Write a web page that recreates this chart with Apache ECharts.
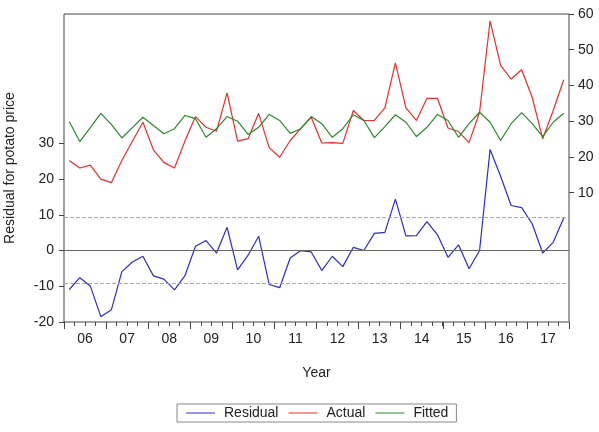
<!DOCTYPE html>
<html>
<head>
<meta charset="utf-8">
<script src="https://cdn.jsdelivr.net/npm/echarts@6/dist/echarts.min.js"></script>
<style>
html, body { margin: 0; padding: 0; background: #fff; }
#chart { width: 599px; height: 432px; }
</style>
</head>
<body>
<div id="chart"></div>
<script>
// year labels, one per 4 quarters
var years = ['06', '07', '08', '09', '10', '11', '12', '13', '14', '15', '16', '17'];
// quarterly categories 2006Q1 .. 2017Q4
var quarters = [];
for (var y = 0; y < years.length; y++) {
	for (var q = 1; q <= 4; q++) {
		quarters.push(years[y] + 'Q' + q);
	}
}
var actual = [19.0, 16.9, 17.7, 13.8, 12.8, 19.0, 24.4, 29.7, 22.0, 18.4, 16.9, 24.5,
	31.3, 28.3, 27.2, 37.9, 24.4, 25.1, 32.2, 22.6, 19.9, 24.6, 27.9, 31.1,
	23.9, 24.0, 23.8, 33.0, 30.2, 30.2, 33.7, 46.3, 33.7, 30.2, 36.4, 36.4,
	28.1, 27.1, 24.0, 32.5, 58.1, 45.6, 41.8, 44.4, 36.7, 25.1, 33.0, 41.6];
var fitted = [29.9, 24.3, 28.2, 32.2, 29.1, 25.3, 28.2, 31.1, 28.8, 26.5, 27.9, 31.6,
	30.7, 25.5, 27.9, 31.3, 30.0, 26.3, 28.3, 31.9, 30.2, 26.6, 27.9, 31.3,
	29.3, 25.5, 27.9, 31.8, 30.2, 25.4, 28.5, 31.8, 29.7, 25.7, 28.3, 31.9,
	30.2, 25.5, 29.3, 32.5, 29.7, 24.6, 29.3, 32.4, 29.3, 25.7, 29.7, 32.2];
var residual = [-10.9, -7.6, -9.9, -18.5, -16.6, -5.9, -3.2, -1.6, -7.1, -8.0, -11.0, -7.0,
	1.2, 2.8, -0.7, 6.5, -5.4, -1.3, 4.0, -9.5, -10.4, -2.1, 0.0, -0.4,
	-5.6, -1.6, -4.5, 0.9, 0.0, 4.8, 5.1, 14.4, 4.1, 4.2, 8.1, 4.4,
	-1.9, 1.6, -5.1, 0.0, 28.3, 20.8, 12.6, 12.0, 7.5, -0.7, 2.3, 9.1];
// +/- 1 S.E. band
var seBand = 9.2;
var leftTicks = [-20, -10, 0, 10, 20, 30];
var rightTicks = [10, 20, 30, 40, 50, 60];

var myChart = echarts.init(document.getElementById('chart'));
var txt = { color: '#222', fontFamily: 'Liberation Sans, Arial, sans-serif', fontSize: 14 };
var axisCol = '#444';
var option = {
	animation: false,
	textStyle: txt,
	grid: {
		left: 64,
		right: 30,
		top: 14,
		bottom: 110,
		outerBoundsMode: 'none',
		containLabel: false,
		show: true,
		borderColor: axisCol,
		borderWidth: 1,
		backgroundColor: 'transparent'
	},
	legend: {
		left: 177,
		top: 404,
		data: ['Residual', 'Actual', 'Fitted'],
		icon: 'rect',
		itemWidth: 29,
		itemHeight: 1,
		itemGap: 10,
		borderColor: '#888',
		borderWidth: 1,
		padding: [2, 8, 2, 9],
		textStyle: { color: '#222', fontFamily: 'Liberation Sans, Arial, sans-serif', fontSize: 14, padding: [0, 0, 0, 4] }
	},
	xAxis: [ {
		type: 'category',
		data: quarters,
		position: 'bottom',
		boundaryGap: true,
		axisLine: { show: false, onZero: false },
		axisTick: { show: true, interval: 0, length: 4, lineStyle: { color: axisCol } },
		axisLabel: { show: false },
		splitLine: { show: false }
	}, {
		type: 'category',
		data: years,
		position: 'bottom',
		boundaryGap: true,
		name: 'Year',
		nameLocation: 'middle',
		nameGap: 44,
		nameTextStyle: txt,
		axisLine: { show: false, onZero: false },
		axisTick: { show: true, interval: 0, length: 7, lineStyle: { color: axisCol } },
		axisLabel: { interval: 0, margin: 10, color: '#222', fontSize: 14 },
		splitLine: { show: false }
	} ],
	yAxis: [ {
		type: 'value',
		position: 'left',
		min: -20,
		max: 66.2,
		name: 'Residual for potato price',
		nameLocation: 'middle',
		nameGap: 47,
		nameTextStyle: txt,
		axisLine: { show: false, onZero: false },
		axisTick: { show: true, length: 5, customValues: leftTicks, lineStyle: { color: axisCol } },
		axisLabel: { customValues: leftTicks, margin: 10, color: '#222', fontSize: 14 },
		splitLine: { show: false }
	}, {
		type: 'value',
		position: 'right',
		min: -26.2,
		max: 60,
		axisLine: { show: false, onZero: false },
		axisTick: { show: true, length: 5, customValues: rightTicks, lineStyle: { color: axisCol } },
		axisLabel: { customValues: rightTicks, margin: 9, color: '#222', fontSize: 14 },
		splitLine: { show: false }
	} ],
	series: [ {
		name: 'Residual',
		type: 'line',
		xAxisIndex: 0,
		yAxisIndex: 0,
		symbol: 'none',
		data: residual,
		lineStyle: { color: '#2b2bd6', width: 1.2 },
		itemStyle: { color: '#2b2bd6' },
		markLine: {
			silent: true,
			symbol: 'none',
			label: { show: false },
			data: [
				{ yAxis: 0, lineStyle: { color: '#666', type: 'solid', width: 1 } },
				{ yAxis: seBand, lineStyle: { color: '#aaa', type: 'dashed', width: 1 } },
				{ yAxis: -seBand, lineStyle: { color: '#aaa', type: 'dashed', width: 1 } }
			]
		},
		z: 3
	}, {
		name: 'Actual',
		type: 'line',
		xAxisIndex: 0,
		yAxisIndex: 1,
		symbol: 'none',
		data: actual,
		lineStyle: { color: '#ee2a2a', width: 1.2 },
		itemStyle: { color: '#ee2a2a' },
		z: 2
	}, {
		name: 'Fitted',
		type: 'line',
		xAxisIndex: 0,
		yAxisIndex: 1,
		symbol: 'none',
		data: fitted,
		lineStyle: { color: '#2a8a2a', width: 1.2 },
		itemStyle: { color: '#2a8a2a' },
		z: 2
	} ]
};
myChart.setOption(option);
</script>
</body>
</html>
